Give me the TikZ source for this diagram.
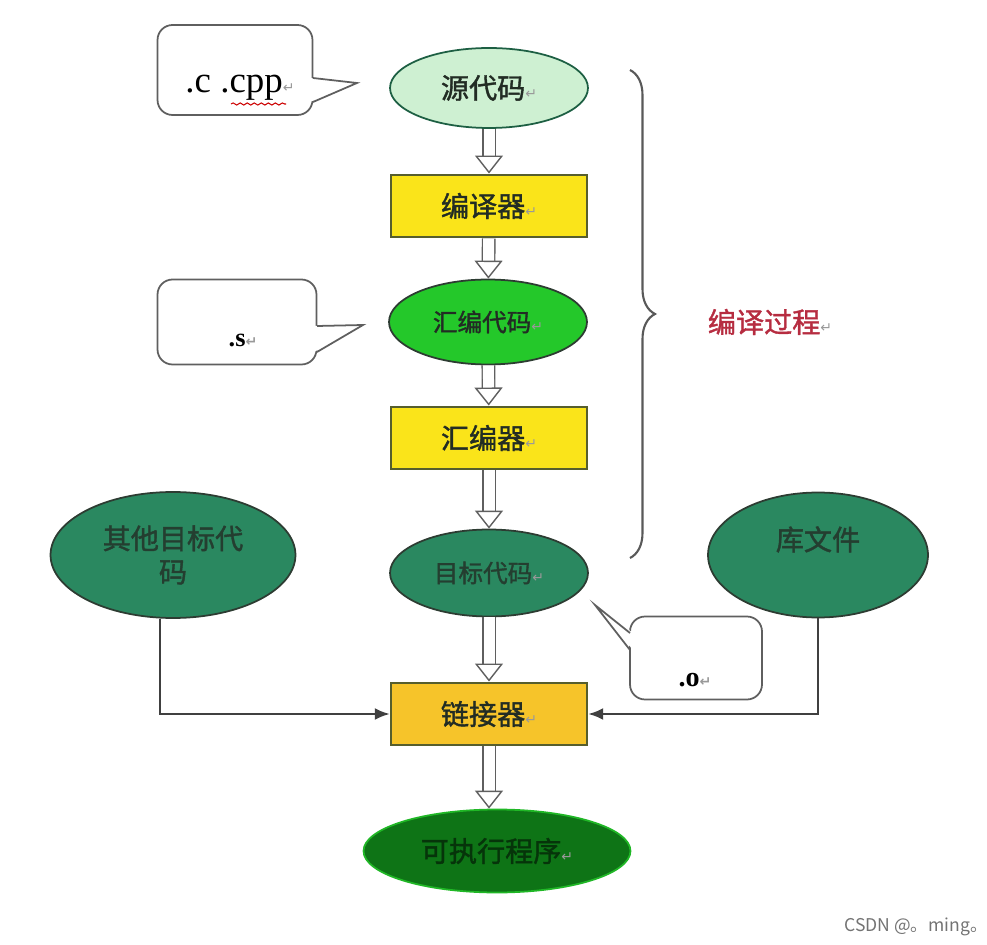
\documentclass[tikz,border=0pt]{standalone}
\usepackage{fontspec}
\usepackage{xcolor}
\usepackage{tikz}
\usetikzlibrary{arrows.meta,positioning,shapes.geometric,decorations.pathreplacing,decorations.pathmorphing}
\setmainfont{Liberation Serif}
\newfontfamily\cjk{Noto Sans CJK SC}
\newfontfamily\cjkb[FakeBold=1.4]{Noto Sans CJK SC}
\newfontfamily\dvs{DejaVu Sans}
\definecolor{bdedge}{RGB}{45,60,50}
\definecolor{bdline}{RGB}{95,95,95}
\definecolor{bdlite}{RGB}{206,240,210}
\definecolor{bdgrn}{RGB}{36,200,42}
\definecolor{bdteal}{RGB}{42,136,96}
\definecolor{bddeep}{RGB}{14,116,22}
\definecolor{bdyel}{RGB}{250,228,26}
\definecolor{bdorg}{RGB}{246,196,42}
\definecolor{bdred}{RGB}{182,44,64}
\definecolor{bdink}{RGB}{34,44,36}
\newcommand\retmark{{\dvs\fontsize{8}{8}\selectfont\color{black!40}↵}}
\tikzset{
  bdnode/.style={
    draw=bdedge, line width=1pt, align=center, inner sep=0pt,
    font=\cjkb\fontsize{16}{19}\selectfont, text=bdink
  },
  ell/.style={bdnode, ellipse, minimum width=3.96cm, minimum height=1.6cm},
  lite/.style={ell, fill=bdlite, draw=bdteal!70!black},
  bright/.style={ell, fill=bdgrn},
  teal/.style={ell, fill=bdteal, text=bdink!80!bdteal},
  deep/.style={ell, fill=bddeep, draw=bdgrn!80!bddeep, text=bddeep!45!black},
  ybox/.style={bdnode, fill=bdyel, draw=bdedge!80!bdyel, line width=1.4pt,
    minimum width=3.92cm, minimum height=1.25cm},
  obox/.style={ybox, fill=bdorg},
  bub/.style={draw=bdline, line width=1pt, fill=white, rounded corners=0.3cm},
  tail/.style={draw=bdline, line width=1pt, line join=miter},
  btxt/.style={inner sep=0pt, text=black},
  dblarr/.style={
    draw=bdline, line width=0.8pt, double=white, double distance=0.22cm,
    -{Triangle[open, length=0.36cm, width=0.56cm, fill=white]}
  },
  arr/.style={-{Latex[length=0.3cm,width=0.24cm]}, draw=black!75, line width=1.3pt},
  brc/.style={decorate, decoration={brace, amplitude=0.5cm}, draw=black!65, line width=1.2pt},
  squig/.style={decorate, decoration={snake, amplitude=0.6pt, segment length=4pt}, draw=red!80!black, line width=0.6pt},
  anno/.style={font=\cjkb\fontsize{16}{19}\selectfont, text=bdred, inner sep=0pt},
  wm/.style={font=\cjk\fontsize{10}{12}\selectfont, text=black!55, inner sep=0pt}
}
\begin{document}
\begin{tikzpicture}[x=0.02cm, y=-0.02cm]
  \useasboundingbox (0,0) rectangle (987,945);

  % Compile chain
  \node[lite] (src) at (489,88) {源代码\retmark};
  \node[ybox] (cc) at (489,206) {编译器\retmark};
  \node[bright, minimum height=1.7cm] (asm) at (488,322) {\fontsize{14}{16}\selectfont 汇编代码\retmark};
  \node[ybox] (as) at (489,438) {汇编器\retmark};
  \node[teal, minimum height=1.74cm] (obj) at (489,573) {\fontsize{14}{16}\selectfont 目标代码\retmark};
  \node[obox] (ld) at (489,714) {链接器\retmark};
  \node[deep, minimum width=5.34cm, minimum height=1.66cm] (exe) at (497,851) {可执行程序\retmark};

  % Inputs of the linker
  \node[teal, minimum width=4.9cm, minimum height=2.52cm] (other) at (173,555) {其他目标代\\码};
  \node[teal, minimum width=4.4cm, minimum height=2.5cm, text depth=0.67cm] (lib) at (818,555) {库文件};

  % Callouts
  \node[bub, minimum width=3.1cm, minimum height=1.8cm] (cbub) at (235,70) {};
  \fill[white] (310,78) -- (357,83) -- (310,102) -- cycle;
  \draw[tail] (313,78) -- (357,83) -- (313,102);
  \node[btxt, font=\fontsize{21}{21}\selectfont] (ctxt) at (240,88) {.c .cpp\retmark};
  \draw[squig] (231,104) -- (286,104);

  \node[bub, minimum width=3.18cm, minimum height=1.7cm] (sbub) at (237,322) {};
  \fill[white] (314,326) -- (363,325) -- (314,352) -- cycle;
  \draw[tail] (317,326) -- (363,325) -- (317,352);
  \node[btxt, font=\bfseries\fontsize{15}{15}\selectfont] (stxt) at (243,340) {.s\retmark};

  \node[bub, minimum width=2.64cm, minimum height=1.66cm] (obub) at (696,658) {};
  \fill[white] (633,633) -- (595,605) -- (633,650) -- cycle;
  \draw[tail] (630,633) -- (595,605) -- (630,650);
  \node[btxt, font=\bfseries\fontsize{16}{16}\selectfont] (otxt) at (695,680) {.o\retmark};

  \draw[dblarr] (src) -- (cc);
  \draw[dblarr] (cc) -- (asm);
  \draw[dblarr] (asm) -- (as);
  \draw[dblarr] (as) -- (obj);
  \draw[dblarr] (obj) -- (ld);
  \draw[dblarr] (ld.south) -- (ld.south |- exe.north);

  \draw[arr] ([xshift=-0.26cm]other.south) |- (ld.west);
  \draw[arr] (lib.south) |- (ld.east);

  % Brace over the compile steps
  \coordinate (btop) at (630,70);
  \coordinate (bbot) at (630,558);
  \draw[brc] (btop) -- (bbot);
  \node[anno] (lbl) at (770,322) {编译过程\retmark};

  \node[wm] (mark) at (916,927) {CSDN @。ming。};
\end{tikzpicture}
\end{document}
